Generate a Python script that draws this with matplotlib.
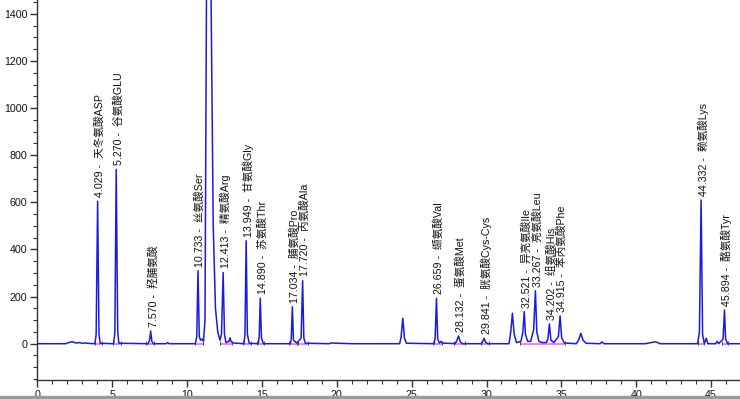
import matplotlib
matplotlib.use("Agg")
import matplotlib.pyplot as plt
from matplotlib.ticker import MultipleLocator
from matplotlib.patches import Rectangle

plt.rcParams['font.family'] = ['Liberation Sans', 'Noto Sans CJK SC', 'DejaVu Sans']

# ---- chromatogram trace (minutes, signal) ----
trace_time = [0, 1.9, 2.1, 2.3, 2.45, 2.6, 2.8, 3.0, 3.2, 3.5, 3.85,
              3.93, 4.029, 4.12, 4.2, 5.1, 5.18, 5.270, 5.37, 5.45,
              7.4, 7.5, 7.570, 7.65, 7.75, 8.6, 8.7, 8.8,
              10.55, 10.65, 10.733, 10.82, 10.9, 11.0, 11.1, 11.2, 11.3, 11.45,
              11.6, 11.75, 11.9, 12.05, 12.2, 12.3, 12.413, 12.5, 12.6, 12.8,
              12.87, 12.95, 13.1, 13.8, 13.87, 13.949, 14.03, 14.15,
              14.75, 14.82, 14.890, 14.97, 15.1, 16.9, 16.96, 17.034, 17.11,
              17.35, 17.62, 17.720, 17.8, 17.9, 19.5, 19.6, 21.0, 22.5,
              24.2, 24.3, 24.41, 24.52, 24.65, 26.5, 26.57, 26.659, 26.74,
              26.85, 26.95, 27.05, 27.9, 28.0, 28.132, 28.25, 28.4,
              29.65, 29.75, 29.841, 29.95, 30.1, 31.5, 31.62, 31.73, 31.85,
              32.0, 32.3, 32.43, 32.521, 32.6, 32.75, 32.95, 33.15, 33.267,
              33.36, 33.5, 33.7, 34.0, 34.1, 34.202, 34.3, 34.5, 34.8, 34.915,
              35.02, 35.2, 36.0, 36.15, 36.3, 36.45, 36.65, 37.6, 37.7, 37.85,
              40.6, 41.0, 41.3, 41.6, 44.1, 44.22, 44.332, 44.43, 44.55, 44.68,
              44.78, 45.3, 45.4, 45.5, 45.8, 45.894, 45.97, 46.1, 46.95]
trace_signal = [0, 0, 5, 8, 6, 3, 5, 2, 3, 1, 0,
                40, 605, 40, 2, 0, 50, 740, 50, 2,
                0, 15, 54, 10, 0, 0, 5, 0,
                0, 30, 310, 30, 15, 20, 10, 100, 1500, 3000,
                1500, 500, 150, 50, 15, 40, 302, 40, 5, 10,
                25, 8, 3, 0, 40, 437, 40, 2,
                0, 30, 193, 25, 0, 0, 20, 157, 15,
                2, 25, 268, 25, 2, 0, 3, 0, 0,
                0, 30, 108, 25, 2, 0, 25, 193, 20,
                3, 10, 3, 0, 10, 33, 8, 0,
                0, 10, 23, 5, 0, 0, 50, 129, 40,
                5, 10, 50, 136, 40, 10, 10, 60, 225,
                50, 10, 5, 5, 20, 84, 15, 5, 30, 118,
                25, 3, 0, 15, 44, 15, 2, 0, 8, 0,
                0, 5, 8, 0, 0, 50, 610, 40, 0, 23,
                0, 0, 10, 0, 20, 143, 20, 0, 0]

# ---- identified peaks ----
peak_rt = [4.029, 5.270, 7.570, 10.733, 12.413, 13.949, 14.890, 17.034, 17.720,
           26.659, 28.132, 29.841, 32.521, 33.267, 34.202, 34.915, 44.332, 45.894]
peak_height = [605, 740, 54, 310, 302, 437, 193, 157, 268,
               193, 33, 23, 136, 225, 84, 118, 610, 143]
peak_name = ['天冬氨酸ASP', '谷氨酸GLU', '羟脯氨酸', '丝氨酸Ser', '精氨酸Arg',
             '甘氨酸Gly', '苏氨酸Thr', '脯氨酸Pro', '丙氨酸Ala', '缬氨酸Val',
             '蛋氨酸Met', '胱氨酸Cys-Cys', '异亮氨酸Ile', '亮氨酸Leu', '组氨酸His',
             '苯丙氨酸Phe', '赖氨酸Lys', '酪氨酸Tyr']

# ---- integration baselines (start, end) ----
base_start = [3.85, 5.05, 7.25, 10.5, 12.2, 13.75, 14.65, 16.8, 17.4,
              26.45, 27.85, 29.6, 32.25, 44.15, 45.7]
base_end = [4.35, 5.6, 7.8, 11.05, 13.0, 14.25, 15.15, 17.35, 18.05,
            27.0, 28.55, 30.15, 35.25, 44.55, 46.15]

fig = plt.figure(figsize=(7.4, 3.99), dpi=100)
ax = fig.add_axes([37.3 / 740, 19 / 399, 1 - 37.3 / 740, 380 / 399])

ax.hlines([0] * len(base_start), base_start, base_end, color='#ff55ff', lw=1.3,
          alpha=0.85, zorder=2)
ax.vlines(base_start + base_end, -5, 10, color='#333333', lw=0.6, zorder=2)
ax.plot(trace_time, trace_signal, color='#1a1ae6', lw=1.1, zorder=3)

for rt, h, name in zip(peak_rt, peak_height, peak_name):
    ax.annotate(f"{rt:.3f} -  {name}", xy=(rt, h), xytext=(1.5, 3),
                textcoords='offset points', rotation=90, ha='center', va='bottom',
                fontsize=7.7, color='#111111')

ax.set_xlim(0, 46.93)
ax.set_ylim(-154, 1459)
ax.xaxis.set_major_locator(MultipleLocator(5))
ax.xaxis.set_minor_locator(MultipleLocator(1))
ax.yaxis.set_major_locator(MultipleLocator(200))
ax.yaxis.set_minor_locator(MultipleLocator(50))
for s in ['top', 'right']:
    ax.spines[s].set_visible(False)
for s in ['left', 'bottom']:
    ax.spines[s].set_color('#333333')
    ax.spines[s].set_linewidth(1.0)
ax.tick_params(which='major', length=5, width=1, colors='#333333', labelsize=7.7,
               labelcolor='#111111', pad=2)
ax.tick_params(which='minor', length=3, width=0.8, colors='#333333')

fig.patches.append(Rectangle((0, 0), 1, 3 / 399, transform=fig.transFigure,
                             color='#9a9a9a', zorder=10))

fig.savefig('out.png', dpi=100)
